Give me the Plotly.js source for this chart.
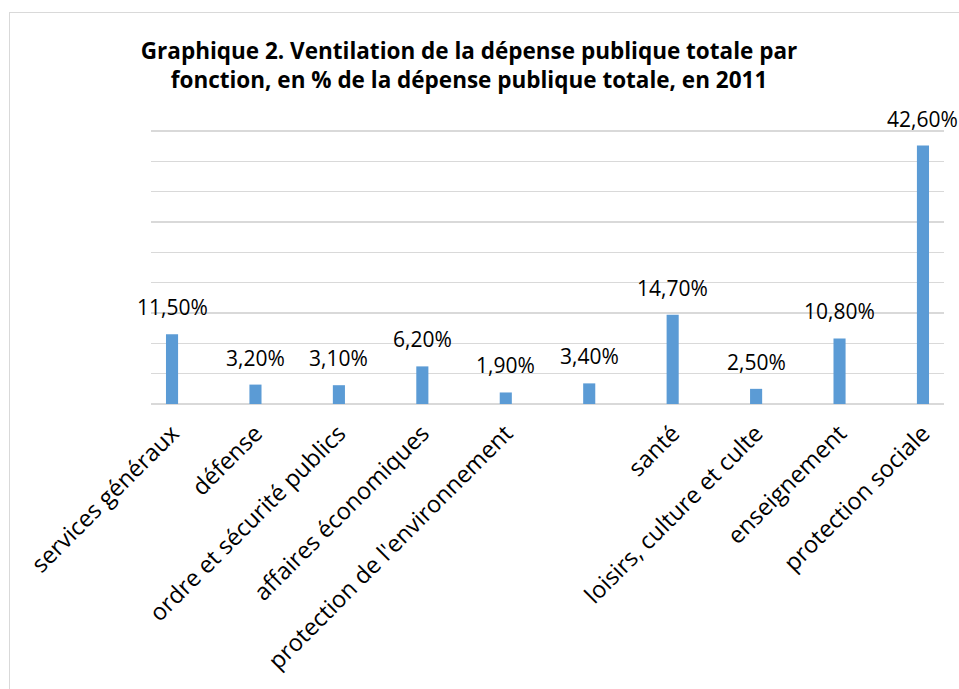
<!DOCTYPE html>
<html>
<head>
<meta charset="utf-8">
<script src="https://cdn.plot.ly/plotly-3.0.1.min.js"></script>
<style>
html,body{margin:0;padding:0;background:#fff;}
#chart{width:959px;height:689px;position:relative;}
#frame{position:absolute;left:9px;top:12px;width:960px;height:690px;border:1.5px solid #d9d9d9;pointer-events:none;}
</style>
</head>
<body>
<div id="chart"></div>
<div id="frame"></div>
<script>
const categories = [
  "services généraux",
  "défense",
  "ordre et sécurité publics",
  "affaires économiques",
  "protection de l'environnement",
  "",
  "santé",
  "loisirs, culture et culte",
  "enseignement",
  "protection sociale"
];
const values = [11.5, 3.2, 3.1, 6.2, 1.9, 3.4, 14.7, 2.5, 10.8, 42.6];
const valueLabels = ["11,50%", "3,20%", "3,10%", "6,20%", "1,90%", "3,40%", "14,70%", "2,50%", "10,80%", "42,60%"];
const yTicks = [0, 5, 10, 15, 20, 25, 30, 35, 40, 45];

const xs = categories.map((c, i) => i);
const FONT = "Open Sans";

const trace = {
  type: "bar",
  x: xs,
  y: values,
  width: 0.145,
  marker: {color: "#5B9BD5", line: {width: 0}},
  hoverinfo: "skip"
};

const annotations = xs.map((x, i) => ({
  x: x, y: values[i], xref: "x", yref: "y",
  text: valueLabels[i], showarrow: false,
  yanchor: "bottom", yshift: 11,
  font: {family: FONT, size: 21, color: "#000"}
}));

const layout = {
  width: 959, height: 689,
  margin: {l: 151, r: 15, t: 128, b: 285, pad: 0},
  paper_bgcolor: "#fff", plot_bgcolor: "#fff",
  showlegend: false,
  title: {
    text: "<b>Graphique 2. Ventilation de la dépense publique totale par<br>fonction, en % de la dépense publique totale, en 2011</b>",
    font: {family: FONT, size: 22.5, color: "#000"},
    x: 469/959, xref: "container", xanchor: "center",
    y: 1 - 59/689, yref: "container", yanchor: "top"
  },
  xaxis: {
    range: [-0.252, 9.252],
    tickmode: "array", tickvals: xs, ticktext: categories,
    tickangle: -45,
    ticklabelstandoff: 10,
    showgrid: false, zeroline: false, showline: false,
    ticks: "", ticklen: 0,
    tickfont: {family: FONT, size: 23.5, color: "#000"},
    fixedrange: true
  },
  yaxis: {
    range: [0, 45.5],
    tickmode: "array", tickvals: yTicks,
    showticklabels: false,
    showgrid: true, gridcolor: "#d9d9d9", gridwidth: 1.3,
    zeroline: true, zerolinecolor: "#d9d9d9", zerolinewidth: 2,
    showline: false, ticks: "",
    fixedrange: true
  },
  annotations: annotations
};

Plotly.newPlot("chart", [trace], layout, {displayModeBar: false, staticPlot: true});
</script>
</body>
</html>
